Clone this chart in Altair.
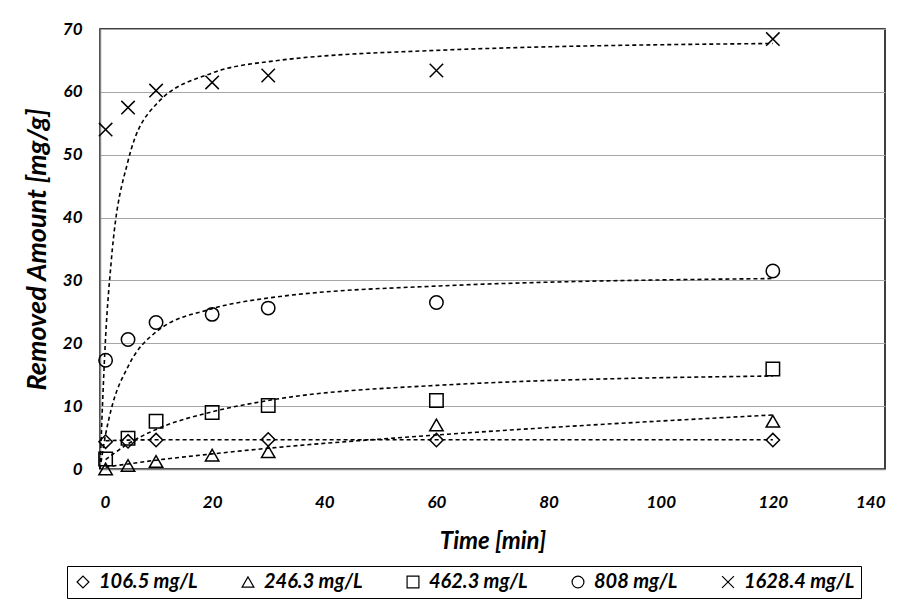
import altair as alt
import pandas as pd

# ---- data ----
series = ["106.5 mg/L", "246.3 mg/L", "462.3 mg/L", "808 mg/L", "1628.4 mg/L"]
shapes = ["diamond", "triangle-up", "square", "circle", "M-1,-1L1,1M-1,1L1,-1"]

t_106 = [1, 5, 10, 30, 60, 120]
q_106 = [4.35, 4.4, 4.6, 4.7, 4.6, 4.6]
t_246 = [1, 5, 10, 20, 30, 60, 120]
q_246 = [0.0, 0.55, 1.2, 2.2, 2.75, 7.0, 7.6]
t_462 = [1, 5, 10, 20, 30, 60, 120]
q_462 = [1.6, 4.9, 7.6, 9.0, 10.1, 10.9, 15.9]
t_808 = [1, 5, 10, 20, 30, 60, 120]
q_808 = [17.3, 20.6, 23.3, 24.6, 25.6, 26.5, 31.5]
t_1628 = [1, 5, 10, 20, 30, 60, 120]
q_1628 = [54.0, 57.5, 60.2, 61.5, 62.6, 63.4, 68.4]

# fitted (dashed) curves
ft_106 = [1, 5, 10, 20, 30, 60, 120]
fq_106 = [4.5, 4.6, 4.65, 4.65, 4.65, 4.65, 4.65]
ft_246 = [1, 5, 10, 20, 30, 60, 120]
fq_246 = [0.3, 0.8, 1.4, 2.4, 3.3, 5.4, 8.6]
ft_462 = [1, 5, 10, 20, 30, 60, 120]
fq_462 = [1.5, 4.0, 6.3, 9.1, 10.9, 13.3, 14.8]
ft_808 = [0, 1, 2, 5, 10, 20, 30, 60, 120]
fq_808 = [0.0, 5.5, 9.5, 16.3, 21.8, 25.5, 27.2, 29.1, 30.3]
ft_1628 = [0, 1, 2, 5, 10, 20, 30, 60, 120]
fq_1628 = [0.0, 21.0, 33.0, 49.0, 58.0, 63.0, 64.8, 66.6, 67.7]

x_ticks = [0, 20, 40, 60, 80, 100, 120, 140]
y_ticks = [0, 10, 20, 30, 40, 50, 60, 70]

obs = [(t_106, q_106), (t_246, q_246), (t_462, q_462), (t_808, q_808), (t_1628, q_1628)]
fits = [(ft_106, fq_106), (ft_246, fq_246), (ft_462, fq_462), (ft_808, fq_808), (ft_1628, fq_1628)]

pts = pd.concat([pd.DataFrame({"t": t, "q": q, "s": s}) for (t, q), s in zip(obs, series)])
lns = pd.concat([pd.DataFrame({"t": t, "q": q, "s": s}) for (t, q), s in zip(fits, series)])

FONT = "Lato"

x_enc = alt.X("t:Q", scale=alt.Scale(domain=[0, 140], nice=False),
              axis=alt.Axis(values=x_ticks, title="Time [min]", grid=False, ticks=False,
                            labelPadding=25, titlePadding=19, titleFontSize=24))
y_enc = alt.Y("q:Q", scale=alt.Scale(domain=[0, 70], nice=False),
              axis=alt.Axis(values=y_ticks, title="Removed Amount [mg/g]", grid=True, ticks=False,
                            labelPadding=18, titlePadding=11, titleFontSize=27))

lines = alt.Chart(lns).mark_line(color="black", strokeDash=[4, 3], strokeWidth=1.6,
                                 interpolate="monotone").encode(
    x=x_enc, y=y_enc, detail="s:N")

points = alt.Chart(pts).mark_point(filled=False, color="black", strokeWidth=1.5, size=180,
                                   opacity=1).encode(
    x=alt.X("t:Q"), y=alt.Y("q:Q"),
    shape=alt.Shape("s:N", scale=alt.Scale(domain=series, range=shapes),
                    legend=alt.Legend(title=None, orient="none", legendX=-33, legendY=537,
                                      direction="horizontal")))

chart = alt.layer(lines, points).properties(
    width=785, height=440,
    autosize=alt.AutoSizeParams(type="none"),
    padding={"left": 92, "top": 21, "right": 10, "bottom": 131},
).configure(font=FONT).configure_view(
    stroke="black", strokeWidth=1.5
).configure_axis(
    labelFont=FONT, labelFontSize=17, labelFontStyle="italic", labelFontWeight="bold",
    labelColor="#000", titleFont=FONT, titleFontStyle="italic",
    titleFontWeight="bold", titleColor="#000", domainColor="#868686", domainWidth=1.5,
    gridColor="#a6a6a6", gridWidth=1
).configure_legend(
    labelFont=FONT, labelFontSize=20, labelFontStyle="italic", labelFontWeight="bold",
    labelColor="#000", strokeColor="black", strokeWidth=1, padding=6,
    symbolSize=140, symbolStrokeColor="black", symbolStrokeWidth=1.2, symbolType="circle",
    columnPadding=40, symbolOffset=0, labelOffset=6
)

chart.save("out.html", embed_options={"renderer": "svg", "actions": False})
